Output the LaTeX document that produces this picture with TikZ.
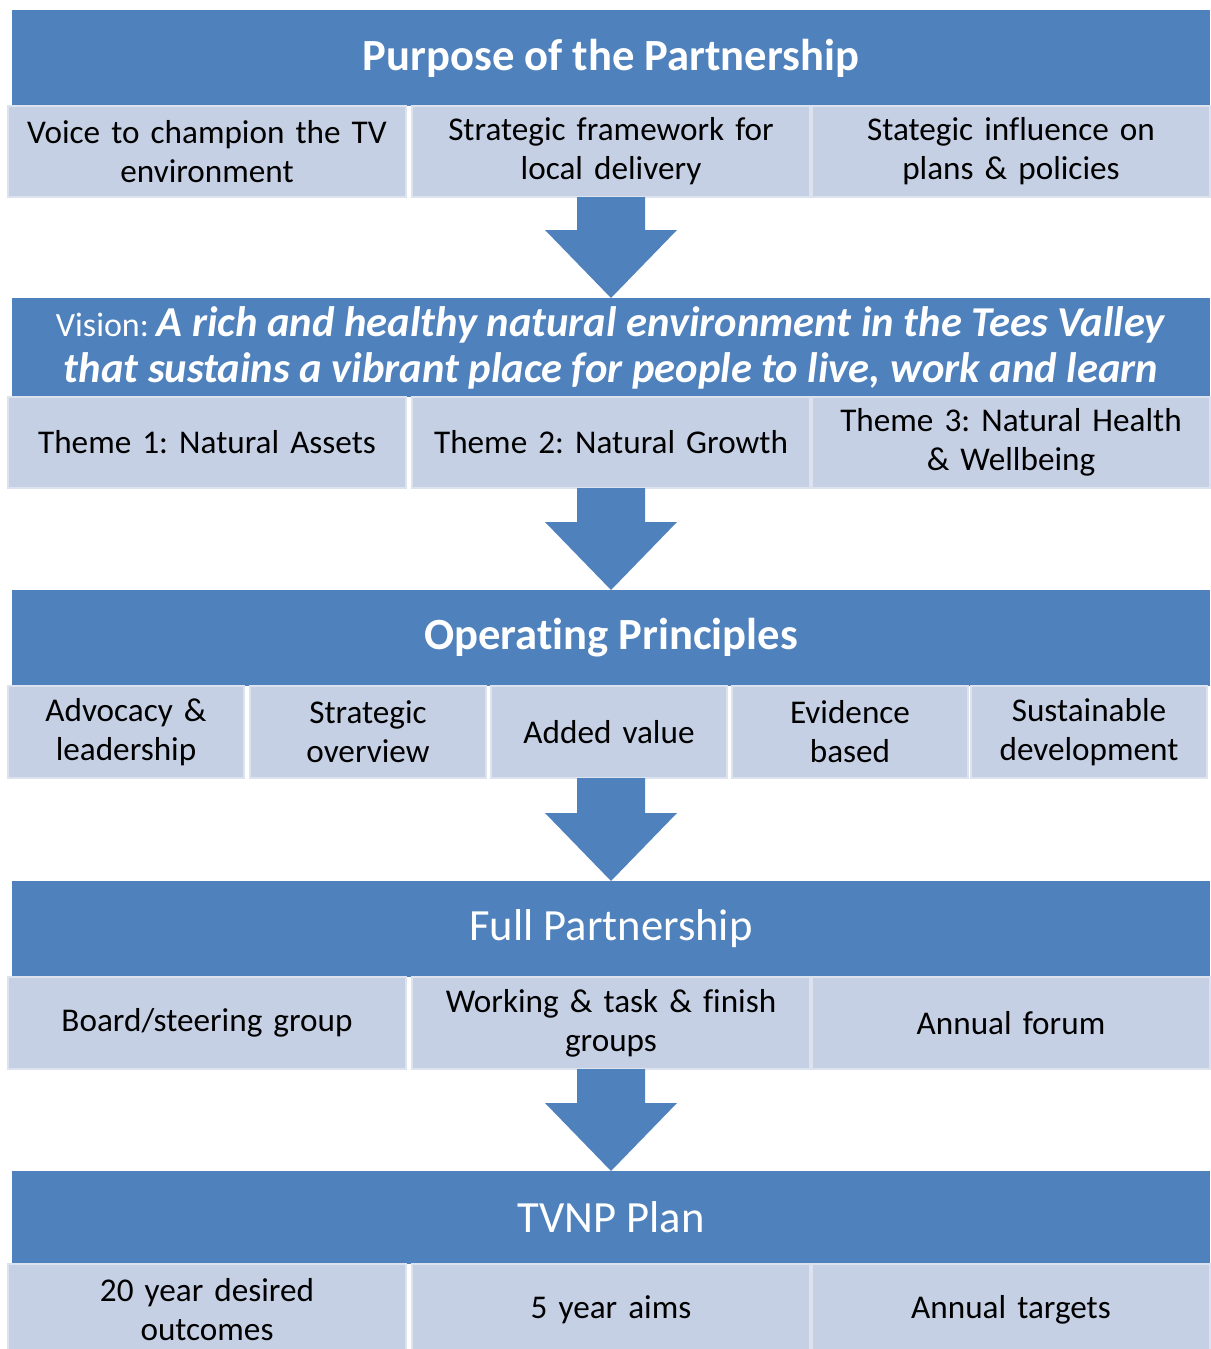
\documentclass[tikz,border=0pt]{standalone}
\usepackage{fontspec}
\setmainfont{Carlito}[Ligatures=NoCommon]
\usepackage{xcolor}
\usetikzlibrary{positioning,calc}
\definecolor{tvBlue}{HTML}{4F81BD}
\definecolor{tvCell}{HTML}{C5D0E4}
\definecolor{tvEdge}{HTML}{DCE3EF}
\frenchspacing

% block arrow from a row of cells down to the next header
\newcommand{\blockdown}[2]{%
  \fill[tvBlue] let \p1=(#1.south), \p2=(#2.north) in
    (\x2-17pt,\y1) -- (\x2+17pt,\y1) -- (\x2+17pt,\y2+34pt) -- (\x2+33pt,\y2+34pt)
    -- (\x2,\y2) -- (\x2-33pt,\y2+34pt) -- (\x2-17pt,\y2+34pt) -- cycle;}

\begin{document}
\begin{tikzpicture}[
  x=0.5pt, y=-0.5pt,
  hdr/.style={fill=tvBlue, text=white, anchor=north west, inner sep=0pt, outer sep=0pt, minimum width=599pt, align=center, font=\fontsize{22.3}{26}\selectfont},
  cell/.style={fill=tvCell, draw=tvEdge, line width=1pt, anchor=north west, inner sep=2pt, outer sep=0pt, align=center, font=\fontsize{16.6}{19.5}\selectfont},
  wide/.style={cell, minimum width=199pt, text width=190pt},
  narrow/.style={cell, minimum width=117.5pt, text width=114pt}
]
\useasboundingbox (0,0) rectangle (1210,1349);

% Purpose
\node[hdr, minimum height=48pt] (H1) at (12,10) {\bfseries Purpose of the Partnership};
\node[wide, minimum height=45.5pt] (A1) at (8,106) {Voice to champion the TV\\environment};
\node[wide, minimum height=45.5pt] (A2) at (412,106) {Strategic framework for\\local delivery};
\node[wide, minimum height=45.5pt] (A3) at (812,106) {Stategic influence on\\plans \& policies};

% Vision
\node[hdr, minimum height=49.5pt, font=\fontsize{21.3}{23}\selectfont] (H2) at (12,298)
  {{\fontsize{17}{23}\selectfont Vision: }\textbf{\textit{A rich and healthy natural environment in the Tees Valley}}\\
   \textbf{\textit{that sustains a vibrant place for people to live, work and learn}}};
\node[wide, minimum height=45.5pt] (B1) at (8,397) {Theme 1: Natural Assets};
\node[wide, minimum height=45.5pt] (B2) at (412,397) {Theme 2: Natural Growth};
\node[wide, minimum height=45.5pt] (B3) at (812,397) {Theme 3: Natural Health\\\& Wellbeing};

% Operating principles
\node[hdr, minimum height=48pt] (H3) at (12,590) {\bfseries Operating Principles};
\node[narrow, minimum height=46pt] (C1) at (8,686) {Advocacy \&\\leadership};
\node[narrow, minimum height=46pt] (C2) at (250,686) {Strategic\\overview};
\node[narrow, minimum height=46pt] (C3) at (491,686) {Added value};
\node[narrow, minimum height=46pt] (C4) at (732,686) {Evidence\\based};
\node[narrow, minimum height=46pt] (C5) at (971,686) {Sustainable\\development};

% Full partnership
\node[hdr, minimum height=48pt] (H4) at (12,881) {Full Partnership};
\node[wide, minimum height=46pt] (D1) at (8,977) {Board/steering group};
\node[wide, minimum height=46pt] (D2) at (412,977) {Working \& task \& finish\\groups};
\node[wide, minimum height=46pt] (D3) at (812,977) {Annual forum};

% Plan
\node[hdr, minimum height=46.5pt] (H5) at (12,1171) {TVNP Plan};
\node[wide, minimum height=46pt] (E1) at (8,1264) {20 year desired\\outcomes};
\node[wide, minimum height=46pt] (E2) at (412,1264) {5 year aims};
\node[wide, minimum height=46pt] (E3) at (812,1264) {Annual targets};

\blockdown{A2}{H2}
\blockdown{B2}{H3}
\blockdown{C3}{H4}
\blockdown{D2}{H5}
\end{tikzpicture}
\end{document}
